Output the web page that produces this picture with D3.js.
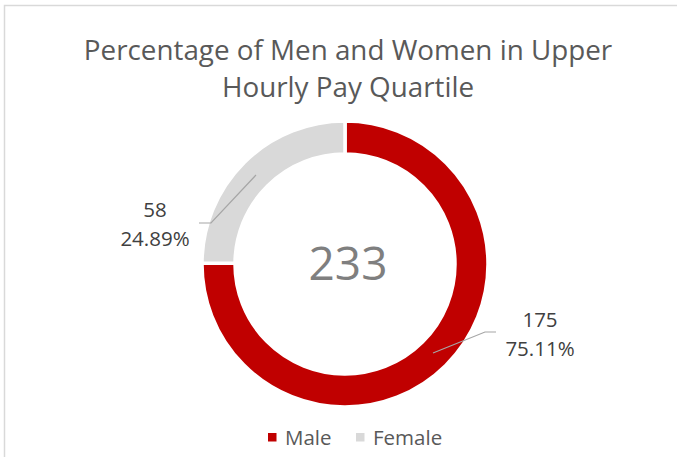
<!DOCTYPE html>
<html>
<head>
<meta charset="utf-8">
<script src="https://cdn.jsdelivr.net/npm/d3@7"></script>
<style>
  body { margin: 0; background: #fff; }
  text { font-family: "Open Sans", "Liberation Sans", sans-serif; }
</style>
</head>
<body>
<svg id="chart"></svg>
<script>
// chart data
const categories = ['Male', 'Female'];
const counts = [175, 58];
const percentLabels = ['75.11%', '24.89%'];
const colors = ['#C00000', '#D9D9D9'];
const titleLines = ['Percentage of Men and Women in Upper', 'Hourly Pay Quartile'];

const width = 686, height = 457;
const cx = 345, cy = 264;
const outerR = 143, innerR = 110;

const svg = d3.select('#chart')
    .attr('width', width)
    .attr('height', height);

// chart border (top and left edges visible)
svg.append('path')
    .attr('d', 'M4.5,470 V5.5 H677')
    .attr('fill', 'none')
    .attr('stroke', '#D9D9D9')
    .attr('stroke-width', 1.5);

// title
svg.append('g').selectAll('text')
    .data(titleLines)
    .join('text')
    .attr('x', 348)
    .attr('y', (d, i) => 60 + i * 37)
    .attr('text-anchor', 'middle')
    .attr('font-size', 27.8)
    .attr('fill', '#595959')
    .text(d => d);

const pie = d3.pie().sort(null).value(d => d);
const arcs = pie(counts);

const arc = d3.arc()
    .innerRadius(innerR)
    .outerRadius(outerR);

const g = svg.append('g')
    .attr('transform', `translate(${cx},${cy})`);

g.selectAll('path')
    .data(arcs)
    .join('path')
    .attr('d', arc)
    .attr('fill', (d, i) => colors[i])
    .attr('stroke', '#fff')
    .attr('stroke-width', 3.5);

// total in the middle
g.append('text')
    .attr('x', 3)
    .attr('y', 16)
    .attr('text-anchor', 'middle')
    .attr('font-size', 46)
    .attr('fill', '#7F7F7F')
    .text(d3.sum(counts));

// leader lines + data labels (positions relative to center)
const labelPos = [
    { line: [[88, 89], [140, 68], [151, 68]], x: 195, y: 63 },
    { line: [[-89, -89], [-134, -41], [-146, -41]], x: -190, y: -47 }
];

arcs.forEach((d, i) => {
    const p = labelPos[i];
    g.append('polyline')
        .attr('points', p.line.map(q => q.join(',')).join(' '))
        .attr('fill', 'none')
        .attr('stroke', '#A6A6A6')
        .attr('stroke-width', 1.2);
    const t = g.append('text')
        .attr('text-anchor', 'middle')
        .attr('font-size', 20.5)
        .attr('fill', '#404040');
    t.append('tspan').attr('x', p.x).attr('y', p.y).text(counts[i]);
    t.append('tspan').attr('x', p.x).attr('y', p.y + 29).text(percentLabels[i]);
});

// legend
const legendX = [268, 356];
const legend = svg.append('g').selectAll('g')
    .data(categories)
    .join('g')
    .attr('transform', (d, i) => `translate(${legendX[i]},433)`);

legend.append('rect')
    .attr('width', 8.5)
    .attr('height', 8.5)
    .attr('fill', (d, i) => colors[i]);

legend.append('text')
    .attr('x', 17)
    .attr('y', 12)
    .attr('font-size', 20.5)
    .attr('fill', '#595959')
    .text(d => d);
</script>
</body>
</html>
